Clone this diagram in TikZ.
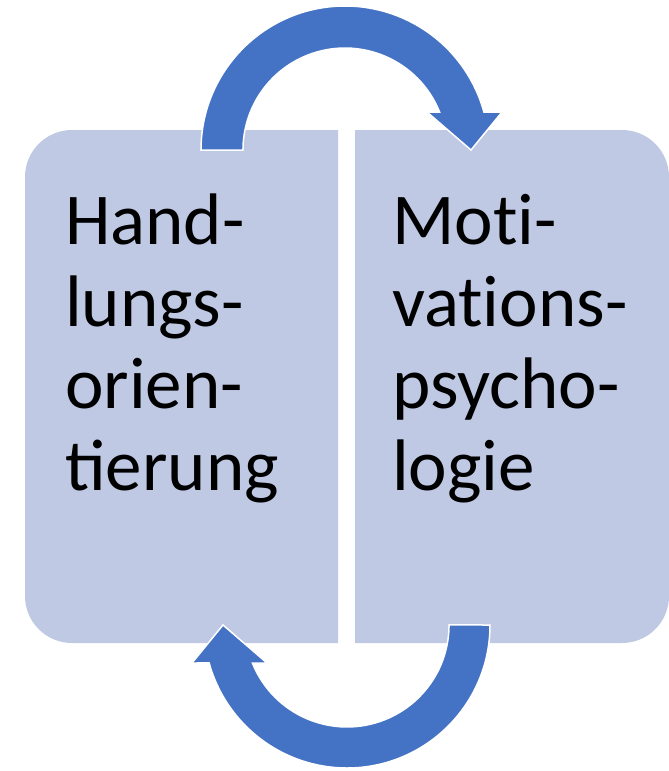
\documentclass[tikz,border=0pt]{standalone}
\usepackage{fontspec}
\setmainfont{Carlito}
\usepackage{tikz}
\usetikzlibrary{calc}
\definecolor{PaleLilac}{RGB}{191, 201, 228}
\definecolor{OfficeBlue}{RGB}{68, 114, 196}
\definecolor{White}{RGB}{255, 255, 255}

\begin{document}
\begin{tikzpicture}[x=1pt, y=-1pt,
    boxfill/.style={fill=PaleLilac},
    blockarrow/.style={fill=OfficeBlue, draw=White, line width=1.5pt, line join=miter},
    boxtext/.style={anchor=base west, inner sep=0pt, align=left, font=\fontsize{73}{82}\selectfont}]
        \useasboundingbox (0,0) rectangle (669,771);
        % the two halves
        \fill[boxfill] (338,130) -- (72,130) arc[start angle=270, end angle=180, radius=47] -- (25,596) arc[start angle=180, end angle=90, radius=47] -- (338,643) -- cycle;
        \fill[boxfill] (355,130) -- (622,130) arc[start angle=270, end angle=360, radius=47] -- (669,596) arc[start angle=0, end angle=90, radius=47] -- (355,643) -- cycle;
        \node[boxtext] (hand) at (65,490) {Hand-\\lungs-\\orien-\\tierung};
        \node[boxtext, font=\fontsize{73}{82}\selectfont\addfontfeatures{RawFeature={-liga;-calt;-dlig}}] (moti) at (392,490) {Moti-\\vations-\\psycho-\\logie};
        % circular arrows
        \coordinate (topc) at (345,150);
        \coordinate (botc) at (347,625);
        \draw[blockarrow] ($(topc)+(-144,0)$) arc[start angle=180, end angle=344.7, radius=144] -- (502,112) -- (471,150) -- (427,112) -- ($(topc)+(94.6,-38)$) arc[start angle=338.1, end angle=180, radius=102] -- cycle;
        \draw[blockarrow] ($(botc)+(143,0)$) arc[start angle=0, end angle=164.6, radius=143] -- (192,663) -- (223,625) -- (267,663) -- ($(botc)+(-94.6,38)$) arc[start angle=158.1, end angle=0, radius=102] -- cycle;
\end{tikzpicture}
\end{document}
